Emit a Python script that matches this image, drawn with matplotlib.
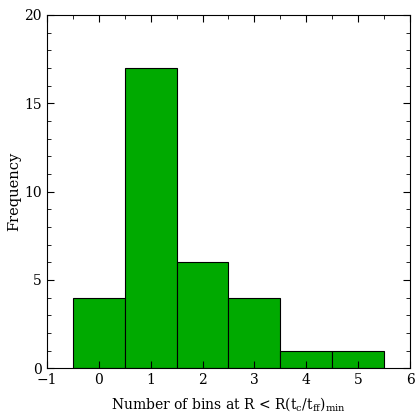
import numpy as np
import matplotlib
matplotlib.use("Agg")
import matplotlib.pyplot as plt
from matplotlib.ticker import MultipleLocator

# number of bins below the minimum of t_c/t_ff, per object
bins = [0, 1, 2, 3, 4, 5]
counts = [4, 17, 6, 4, 1, 1]

plt.rcParams['font.family'] = 'DejaVu Serif'
plt.rcParams['mathtext.fontset'] = 'dejavuserif'

fig = plt.figure(figsize=(4.15, 4.16), dpi=100)
ax = fig.add_axes([0.113, 0.115, 0.875, 0.849])
ax.bar(bins, counts, width=1.0, color='#00aa00', edgecolor='black', linewidth=0.8)

ax.set_xlim(-1, 6)
ax.set_ylim(0, 20)
ax.xaxis.set_major_locator(MultipleLocator(1))
ax.xaxis.set_minor_locator(MultipleLocator(0.5))
ax.yaxis.set_major_locator(MultipleLocator(5))
ax.yaxis.set_minor_locator(MultipleLocator(1))
ax.tick_params(which='both', direction='in', top=True, right=True, labelsize=10)
ax.tick_params(which='major', length=5, width=0.8)
ax.tick_params(which='minor', length=3, width=0.6)

ax.set_xlabel(r"Number of bins at R < R(t$_{\rm c}$/t$_{\rm ff}$)$_{\rm min}$", fontsize=10, labelpad=6)
ax.set_ylabel("Frequency", fontsize=10.5, labelpad=2)

fig.savefig("out.png", dpi=100)
